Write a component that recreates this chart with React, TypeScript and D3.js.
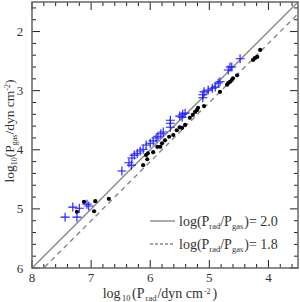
import React from "react";
import * as d3 from "d3";

// Blue crosses: [log10 Prad, log10 Pgas]
const blueX = [7.44, 7.31, 7.24, 7.2, 7.07, 7.04, 6.48, 6.36, 6.32, 6.31, 6.27, 6.22, 6.17, 6.12, 6.07, 6.0, 5.95, 5.9, 5.87, 5.82, 5.78, 5.66, 5.66, 5.66, 5.5, 5.46, 5.45, 5.41, 5.11, 5.11, 5.09, 5.02, 4.95, 4.9, 4.85, 4.82, 4.68, 4.65, 4.62, 4.48];
const blueY = [5.14, 4.97, 5.14, 4.99, 4.92, 4.95, 4.36, 4.22, 4.26, 4.14, 4.09, 4.06, 4.02, 3.99, 3.92, 3.89, 3.85, 3.8, 3.77, 3.73, 3.7, 3.62, 3.55, 3.5, 3.43, 3.45, 3.4, 3.38, 3.12, 3.07, 3.02, 2.99, 2.96, 2.94, 2.87, 2.85, 2.65, 2.6, 2.6, 2.46];

// Black dots
const blackX = [7.24, 7.12, 6.93, 6.95, 6.7, 6.12, 6.07, 6.05, 6.04, 5.95, 5.88, 5.83, 5.8, 5.75, 5.68, 5.61, 5.55, 5.5, 5.46, 5.41, 5.33, 5.28, 5.24, 5.21, 5.19, 5.09, 4.82, 4.7, 4.68, 4.65, 4.62, 4.6, 4.53, 4.26, 4.23, 4.19, 4.14];
const blackY = [5.05, 4.88, 4.87, 5.04, 4.83, 4.26, 4.09, 4.16, 4.06, 4.04, 3.95, 3.95, 3.89, 3.84, 3.78, 3.75, 3.67, 3.62, 3.63, 3.58, 3.46, 3.41, 3.36, 3.33, 3.29, 3.26, 3.02, 2.9, 2.87, 2.85, 2.82, 2.79, 2.74, 2.48, 2.45, 2.43, 2.31];

const xTicks = [8, 7, 6, 5, 4];
const yTicks = [2, 3, 4, 5, 6];
const ratios = [2.0, 1.8];
const ratioLabels = ["2.0", "1.8"];

const W = 300, H = 302;
const L = 32, R = 298, T = 2, B = 268;
const FONT = "'Liberation Serif', 'DejaVu Serif', serif";

export default function App() {
  const x = d3.scaleLinear().domain([8, 3.5]).range([L, R]);
  const y = d3.scaleLinear().domain([1.5, 6]).range([T, B]);

  const minorX = d3.range(80, 34, -2).map((v) => v / 10).filter((v) => Math.abs(v - Math.round(v)) > 1e-6);
  const minorY = d3.range(16, 61, 2).map((v) => v / 10).filter((v) => Math.abs(v - Math.round(v)) > 1e-6);

  const line = d3.line<[number, number]>().x((d) => x(d[0])).y((d) => y(d[1]));
  const relLine = (r: number): [number, number][] => {
    const pts: [number, number][] = [];
    for (let xv = 8; xv >= 3.5 - 1e-9; xv -= 0.5) pts.push([xv, xv - r]);
    return pts;
  };

  const tickColor = "#222";
  const frame = "#666";
  const lineGray = "#888";

  return (
    <svg width={W} height={H} style={{ display: "block", position: "absolute", left: 0, top: 0 }}>
      <defs>
        <clipPath id="plotclip">
          <rect x={L} y={T} width={R - L} height={B - T} />
        </clipPath>
      </defs>
      <rect x={0} y={0} width={W} height={H} fill="white" />

      <g clipPath="url(#plotclip)">
        {ratios.map((r, i) => (
          <path
            key={i}
            d={line(relLine(r)) || ""}
            fill="none"
            stroke={lineGray}
            strokeWidth={1.4}
            strokeDasharray={i === 1 ? "5,4" : undefined}
          />
        ))}
        {blackX.map((xv, i) => (
          <circle key={"b" + i} cx={x(xv)} cy={y(blackY[i])} r={2.1} fill="#000" />
        ))}
        {blueX.map((xv, i) => {
          const cx = x(xv), cy = y(blueY[i]);
          return (
            <path
              key={"c" + i}
              d={`M${cx - 4.5},${cy}H${cx + 4.5}M${cx},${cy - 4.5}V${cy + 4.5}`}
              stroke="#1a1aff"
              strokeWidth={1.1}
              fill="none"
            />
          );
        })}
      </g>

      {/* ticks */}
      <g stroke={tickColor} strokeWidth={1}>
        {xTicks.map((v) => (
          <g key={"xt" + v}>
            <line x1={x(v)} x2={x(v)} y1={B} y2={B - 8} />
            <line x1={x(v)} x2={x(v)} y1={T} y2={T + 8} />
          </g>
        ))}
        {minorX.map((v) => (
          <g key={"xm" + v}>
            <line x1={x(v)} x2={x(v)} y1={B} y2={B - 4} />
            <line x1={x(v)} x2={x(v)} y1={T} y2={T + 4} />
          </g>
        ))}
        {yTicks.map((v) => (
          <g key={"yt" + v}>
            <line x1={L} x2={L + 8} y1={y(v)} y2={y(v)} />
            <line x1={R} x2={R - 8} y1={y(v)} y2={y(v)} />
          </g>
        ))}
        {minorY.map((v) => (
          <g key={"ym" + v}>
            <line x1={L} x2={L + 4} y1={y(v)} y2={y(v)} />
            <line x1={R} x2={R - 4} y1={y(v)} y2={y(v)} />
          </g>
        ))}
      </g>
      <rect x={L} y={T} width={R - L} height={B - T} fill="none" stroke={frame} strokeWidth={1.5} />

      {/* tick labels */}
      <g fontFamily={FONT} fontSize={13} fill="#333">
        {xTicks.map((v) => (
          <text key={"xl" + v} x={x(v)} y={B + 14} textAnchor="middle">{v}</text>
        ))}
        {yTicks.map((v) => (
          <text key={"yl" + v} x={L - 12} y={y(v) + 4.5} textAnchor="middle">{v}</text>
        ))}
      </g>

      {/* axis titles */}
      <text x={160} y={298} textAnchor="middle" fontFamily={FONT} fontSize={14} fill="#333">
        log<tspan fontSize={8.5} dx={1.5} dy={3}>10</tspan>
        <tspan dx={1.5} dy={-3}>(P</tspan>
        <tspan fontSize={8.5} dx={1} dy={3}>rad</tspan>
        <tspan dx={1} dy={-3}>/dyn cm</tspan>
        <tspan fontSize={8} dx={1} dy={-4}>-2</tspan>
        <tspan dx={2} dy={4}>)</tspan>
      </text>
      <text
        transform={`translate(14,${131}) rotate(-90)`}
        textAnchor="middle"
        fontFamily={FONT}
        fontSize={13.5}
        fill="#333"
      >
        log<tspan fontSize={8} dy={3}>10</tspan>
        <tspan dy={-3}>(P</tspan>
        <tspan fontSize={8} dy={3}>gas</tspan>
        <tspan dy={-3}>/dyn cm</tspan>
        <tspan fontSize={8} dy={-4}>-2</tspan>
        <tspan dy={4}>)</tspan>
      </text>

      {/* legend */}
      {ratioLabels.map((lab, i) => {
        const ly = 221 + i * 23;
        return (
          <g key={"lg" + i}>
            <line
              x1={150}
              x2={175}
              y1={ly}
              y2={ly}
              stroke={lineGray}
              strokeWidth={1.4}
              strokeDasharray={i === 1 ? "3,2" : undefined}
            />
            <text x={179} y={ly + 4.5} fontFamily={FONT} fontSize={14} fill="#333">
              log(P<tspan fontSize={8.5} dy={3}>rad</tspan>
              <tspan dy={-3}>/P</tspan>
              <tspan fontSize={8.5} dy={3}>gas</tspan>
              <tspan dx={1} dy={-3}>)= {lab}</tspan>
            </text>
          </g>
        );
      })}
    </svg>
  );
}
